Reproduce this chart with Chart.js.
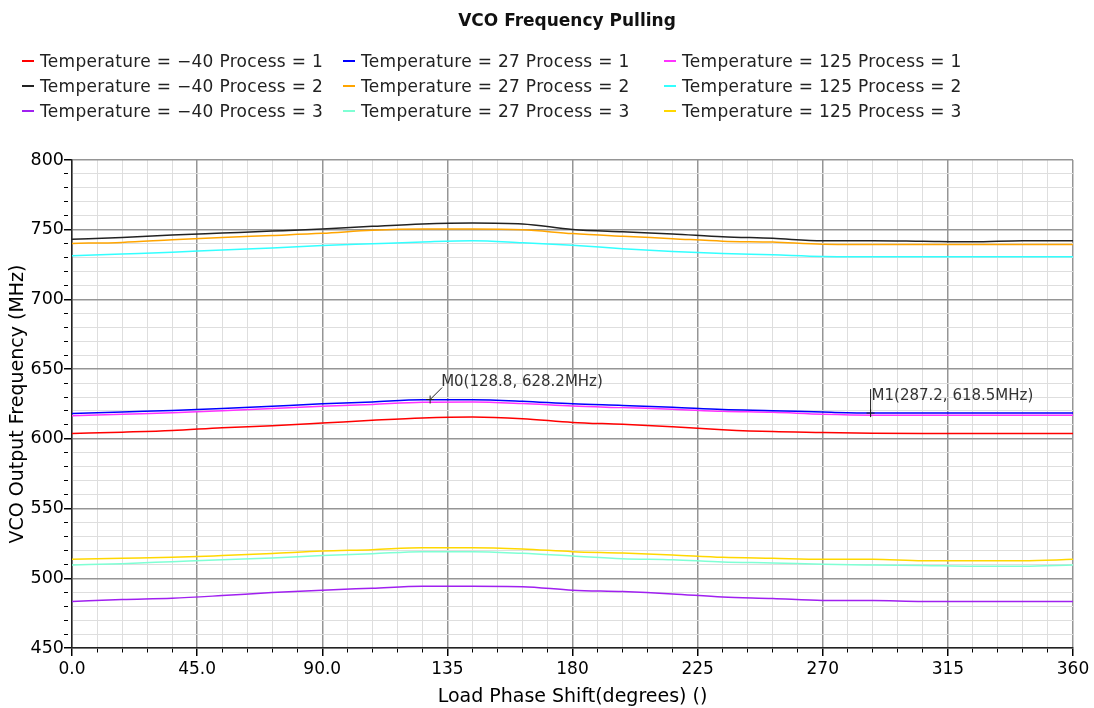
<!DOCTYPE html>
<html>
<head>
<meta charset="utf-8">
<script src="https://cdn.jsdelivr.net/npm/chart.js@4.4.1/dist/chart.umd.min.js"></script>
<style>
  body { margin: 0; background: #fff; }
  #wrap { position: relative; width: 1094px; height: 708px; font-family: "DejaVu Sans", sans-serif; }
  #title { position: absolute; left: 367px; width: 400px; top: 10px; text-align: center;
           font-size: 17px; font-weight: bold; color: #111; line-height: 20px; }
  #legend { position: absolute; left: 22px; top: 49px; display: grid;
            grid-template-columns: 321px 321px 321px; grid-template-rows: 25px 25px 25px;
            grid-auto-flow: column; }
  .item { font-size: 17px; line-height: 25px; color: #222; white-space: nowrap; letter-spacing: 0.3px; }
  .item span.sw { display: inline-block; width: 12px; height: 2px; vertical-align: middle;
                  margin-right: 6px; position: relative; top: -1px; }
</style>
</head>
<body>
<div id="wrap">
  <canvas id="chart" width="1094" height="708"></canvas>
  <div id="title">VCO Frequency Pulling</div>
  <div id="legend"></div>
</div>
<script>
// phase shift in degrees
const phase = [0, 18, 36, 54, 72, 90, 108, 126, 144, 162, 180, 198, 216, 234, 252, 270, 288, 306, 324, 342, 360];

// VCO output frequency (MHz)
const tm40p1 = [603.8, 604.8, 606.0, 608.0, 609.4, 611.3, 613.3, 615.0, 615.7, 614.5, 611.8, 610.4, 608.6, 606.6, 605.2, 604.6, 604.0, 603.9, 603.9, 603.9, 603.9];
const t27p1 = [618.1, 619.3, 620.3, 621.7, 623.4, 625.1, 626.5, 628.0, 628.1, 627.0, 625.1, 624.0, 622.7, 621.0, 620.2, 619.2, 618.5, 618.5, 618.5, 618.5, 618.5];
const t125p1 = [616.6, 617.7, 618.7, 620.1, 621.7, 623.3, 624.7, 626.2, 626.4, 625.3, 623.5, 622.4, 621.3, 619.8, 619.0, 617.6, 617.0, 617.0, 617.0, 617.0, 617.0];
const tm40p2 = [743.1, 744.5, 746.2, 747.6, 749.0, 750.5, 752.4, 754.1, 754.8, 754.1, 750.2, 748.5, 747.0, 745.0, 743.8, 742.1, 742.1, 741.7, 741.3, 742.1, 742.1];
const t27p2 = [740.2, 740.9, 742.8, 744.5, 745.9, 747.4, 749.6, 750.5, 750.5, 749.9, 747.2, 745.3, 743.6, 741.8, 741.1, 739.6, 739.4, 739.4, 739.4, 739.4, 739.4];
const t125p2 = [731.4, 732.6, 733.8, 735.5, 736.8, 738.6, 739.9, 741.2, 742.1, 740.6, 738.8, 736.4, 734.4, 733.0, 732.0, 730.8, 730.6, 730.6, 730.6, 730.6, 730.6];
const tm40p3 = [483.4, 484.8, 485.7, 487.6, 489.8, 491.5, 492.9, 494.3, 494.3, 494.0, 491.5, 490.5, 488.8, 486.5, 485.5, 484.1, 484.1, 483.4, 483.4, 483.4, 483.4];
const t27p3 = [509.5, 510.5, 511.9, 513.3, 514.5, 516.3, 517.6, 519.1, 519.1, 517.9, 516.0, 514.1, 513.3, 511.7, 511.0, 510.0, 509.5, 509.2, 508.6, 508.6, 509.5];
const t125p3 = [513.6, 514.3, 515.0, 516.3, 517.8, 519.5, 520.5, 521.9, 521.9, 521.0, 519.1, 518.1, 516.7, 515.0, 514.3, 513.6, 513.6, 512.6, 512.6, 512.6, 513.6];

// markers
const markerX = [128.8, 287.2];
const markerY = [628.2, 618.5];
const markerText = ['M0(128.8, 628.2MHz)', 'M1(287.2, 618.5MHz)'];

function pts(arr) {
    return arr.map((v, i) => ({x: phase[i], y: v}));
}

function serie(label, arr, color) {
    return {
        label: label,
        data: pts(arr),
        borderColor: color,
        backgroundColor: color,
        borderWidth: 1.5,
        pointRadius: 0,
        cubicInterpolationMode: 'monotone',
        fill: false,
    };
}

/* order = columns of the legend (temperature), rows (process) */
const datasets = [
    serie('Temperature = \u221240 Process = 1', tm40p1, '#ff0000'),
    serie('Temperature = \u221240 Process = 2', tm40p2, '#222222'),
    serie('Temperature = \u221240 Process = 3', tm40p3, '#a020f0'),
    serie('Temperature = 27 Process = 1', t27p1, '#0000ff'),
    serie('Temperature = 27 Process = 2', t27p2, '#ffa500'),
    serie('Temperature = 27 Process = 3', t27p3, '#7fffd4'),
    serie('Temperature = 125 Process = 1', t125p1, '#ff33ff'),
    serie('Temperature = 125 Process = 2', t125p2, '#33ffff'),
    serie('Temperature = 125 Process = 3', t125p3, '#ffd700'),
];

const legend = document.getElementById('legend');
datasets.forEach(ds => {
    const d = document.createElement('div');
    d.className = 'item';
    d.innerHTML = '<span class="sw" style="background:' + ds.borderColor + '"></span>' + ds.label;
    legend.appendChild(d);
});

const markers = {
    id: 'markers',
    afterDatasetsDraw(chart) {
        const ctx = chart.ctx;
        const xs = chart.scales.x, ys = chart.scales.y;
        ctx.save();
        ctx.strokeStyle = '#222';
        ctx.fillStyle = '#333';
        ctx.lineWidth = 1;
        ctx.font = '15px "DejaVu Sans"';
        ctx.textBaseline = 'middle';
        for (let i = 0; i < markerX.length; i++) {
            const px = xs.getPixelForValue(markerX[i]);
            const py = ys.getPixelForValue(markerY[i]);
            ctx.beginPath();
            ctx.moveTo(px - 4, py); ctx.lineTo(px + 4, py);
            ctx.moveTo(px, py - 4); ctx.lineTo(px, py + 4);
            if (i == 0) {
                ctx.moveTo(px, py); ctx.lineTo(px + 12, py - 12);
                ctx.stroke();
                ctx.fillText(markerText[i], px + 11, py - 17);
            } else {
                ctx.moveTo(px, py + 4); ctx.lineTo(px, py - 24);
                ctx.stroke();
                ctx.fillText(markerText[i], px + 1, py - 17);
            }
        }
        ctx.restore();
    }
};

function major(v, step) {
    return Math.abs(v % step) < 1e-6;
}

const canvas = document.getElementById('chart');
const grafico = new Chart(canvas, {
    type: 'line',
    data: { datasets: datasets },
    options: {
        responsive: false,
        animation: false,
        devicePixelRatio: 1,
        layout: { padding: { top: 160, right: 21, left: 0, bottom: 0 } },
        plugins: {
            legend: { display: false },
            title: { display: false },
            tooltip: { enabled: false },
        },
        scales: {
            x: {
                type: 'linear',
                min: 0, max: 360,
                afterFit(s) { s.height = 60; },
                ticks: {
                    stepSize: 9,
                    autoSkip: false,
                    maxRotation: 0,
                    padding: 3,
                    color: '#000',
                    font: { family: 'DejaVu Sans', size: 17 },
                    callback: (v) => major(v, 45) ? (v < 100 ? v.toFixed(1) : String(v)) : '',
                },
                grid: {
                    color: (c) => major(c.tick.value, 45) ? '#959595' : '#dedede',
                    lineWidth: (c) => major(c.tick.value, 45) ? 1.5 : 1,
                    tickColor: '#000',
                    tickLength: 8,
                    tickBorderDash: (c) => major(c.tick.value, 45) ? [] : [4, 100],
                },
                border: { color: '#222', width: 1.5 },
                title: {
                    display: true,
                    text: 'Load Phase Shift(degrees) ()',
                    color: '#000',
                    font: { family: 'DejaVu Sans', size: 19 },
                    padding: { top: 11, bottom: 0 },
                },
            },
            y: {
                min: 450, max: 800,
                afterFit(s) { s.width = 72; },
                ticks: {
                    stepSize: 10,
                    autoSkip: false,
                    padding: 0,
                    color: '#000',
                    font: { family: 'DejaVu Sans', size: 17.5 },
                    callback: (v) => major(v, 50) ? String(v) : '',
                },
                grid: {
                    color: (c) => major(c.tick.value, 50) ? '#959595' : '#dedede',
                    lineWidth: (c) => major(c.tick.value, 50) ? 1.5 : 1,
                    tickColor: '#000',
                    tickLength: 8,
                    tickBorderDash: (c) => major(c.tick.value, 50) ? [] : [4, 100],
                },
                border: { color: '#222', width: 1.5 },
                title: {
                    display: true,
                    text: 'VCO Output Frequency (MHz)',
                    color: '#000',
                    font: { family: 'DejaVu Sans', size: 19 },
                    padding: { top: 7, bottom: 0 },
                },
            },
        },
    },
    plugins: [markers],
});
</script>
</body>
</html>
